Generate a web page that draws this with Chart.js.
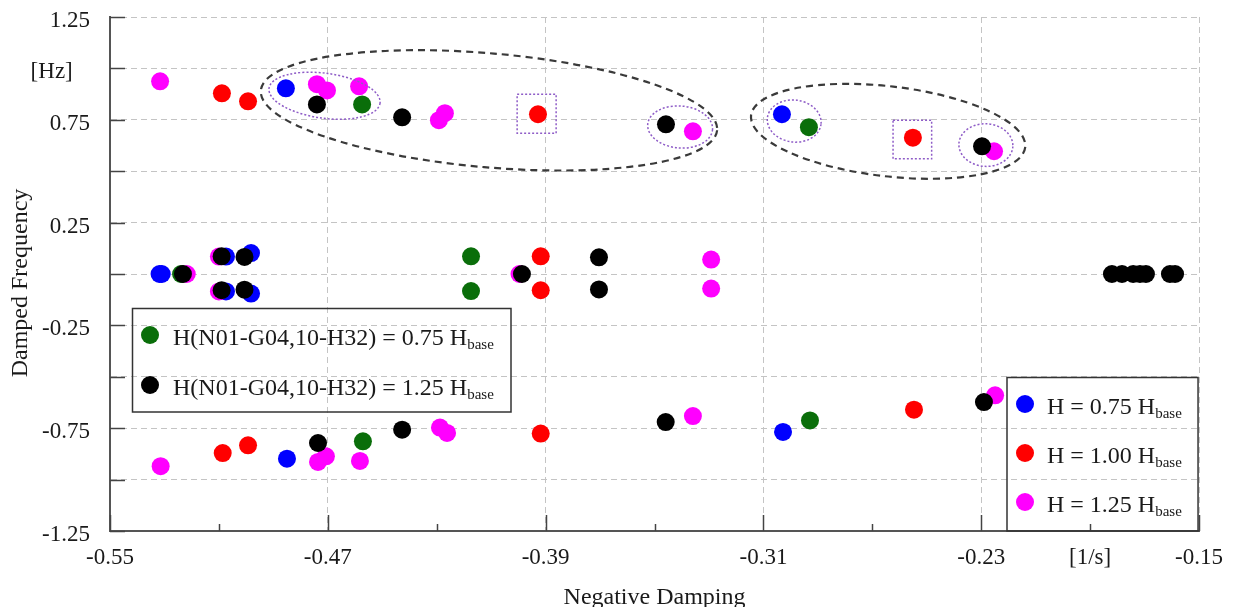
<!DOCTYPE html>
<html>
<head>
<meta charset="utf-8">
<title>Damped Frequency vs Negative Damping</title>
<script src="https://cdn.jsdelivr.net/npm/chart.js@4.4.1/dist/chart.umd.min.js"></script>
<style>
    html, body { margin: 0; padding: 0; background: #fff; }
    canvas { display: block; }
</style>
</head>
<body>
<canvas id="chart" width="1236" height="607"></canvas>
<script>
// axis tick labels (from min to max)
const xTickLabels = ['-0.55', '', '-0.47', '', '-0.39', '', '-0.31', '', '-0.23', '[1/s]', '-0.15'];
const yTickLabels = ['-1.25', '', '-0.75', '', '-0.25', '', '0.25', '', '0.75', '[Hz]   ', '1.25'];

// H = 0.75 Hbase
const blueDamping = [-0.4854, -0.3032, -0.4850, -0.3028, -0.5318, -0.5310, -0.5074, -0.5074, -0.4982, -0.4982];
const blueFreq = [0.903, 0.777, -0.898, -0.768, 0.000, 0.000, 0.085, -0.085, 0.102, -0.095];

// H = 1.00 Hbase
const redDamping = [-0.5089, -0.4993, -0.3928, -0.2551, -0.5086, -0.4993, -0.3918, -0.2547, -0.3918, -0.3918];
const redFreq = [0.879, 0.840, 0.777, 0.663, -0.871, -0.833, -0.776, -0.660, 0.086, -0.079];

// H = 1.25 Hbase
const magentaDamping = [-0.5316, -0.4740, -0.4703, -0.4585, -0.4292, -0.4270, -0.3359, -0.2253,
                        -0.5314, -0.4736, -0.4707, -0.4582, -0.4288, -0.4262, -0.3359, -0.2249,
                        -0.5218, -0.5100, -0.5100, -0.3996, -0.3292, -0.3292];
const magentaFreq = [0.937, 0.923, 0.893, 0.913, 0.748, 0.782, 0.694, 0.597,
                     -0.935, -0.914, -0.887, -0.909, -0.747, -0.773, -0.691, -0.590,
                     0.000, 0.085, -0.085, 0.000, 0.070, -0.071];

// H(N01-G04,10-H32) = 0.75 Hbase
const greenDamping = [-0.4574, -0.2933, -0.4571, -0.2929, -0.5239, -0.4174, -0.4174];
const greenFreq = [0.825, 0.714, -0.814, -0.712, 0.000, 0.086, -0.083];

// H(N01-G04,10-H32) = 1.25 Hbase
const blackDamping = [-0.4740, -0.4427, -0.3458, -0.2297, -0.4736, -0.4427, -0.3459, -0.2290,
                      -0.5232, -0.5090, -0.5090, -0.5006, -0.5006, -0.3987, -0.3704, -0.3704,
                      -0.1820, -0.1783, -0.1742, -0.1717, -0.1695, -0.1607, -0.1588];
const blackFreq = [0.825, 0.762, 0.728, 0.621, -0.822, -0.757, -0.720, -0.623,
                   0.000, 0.086, -0.079, 0.083, -0.076, 0.000, 0.081, -0.075,
                   0.000, 0.000, 0.000, 0.000, 0.000, 0.000, 0.000];

// highlighted groups (centre in data units, size in px)
const dashedEllipses = [
    { x: -0.4108, y: 0.796, rx: 229, ry: 57, rot: 0.087 },
    { x: -0.2642, y: 0.694, rx: 138, ry: 45, rot: 0.116 }
];
const dottedEllipses = [
    { x: -0.4712, y: 0.867, rx: 56, ry: 22.5, rot: 0.134 },
    { x: -0.3406, y: 0.715, rx: 32.5, ry: 21, rot: 0.08 },
    { x: -0.2987, y: 0.744, rx: 27, ry: 21, rot: 0.12 },
    { x: -0.2283, y: 0.627, rx: 27, ry: 21.3, rot: 0.05 }
];
const dottedSquares = [
    { x: -0.3933, y: 0.780, half: 19.5 },
    { x: -0.2553, y: 0.654, half: 19.3 }
];

const FONT = '"Liberation Serif", "Times New Roman", serif';
const TEXT = '#1a1a1a';

function points(xs, ys) {
    return xs.map((x, i) => ({ x: x, y: ys[i] }));
}

function series(label, color, xs, ys, order) {
    return {
        label: label,
        data: points(xs, ys),
        backgroundColor: color,
        borderColor: color,
        borderWidth: 0,
        pointRadius: 9,
        pointHoverRadius: 9,
        showLine: false,
        order: order
    };
}

const datasets = [
    series('H = 0.75 H', '#0000ff', blueDamping, blueFreq, 4),
    series('H = 1.00 H', '#ff0000', redDamping, redFreq, 3),
    series('H = 1.25 H', '#ff00ff', magentaDamping, magentaFreq, 2),
    series('H(N01-G04,10-H32) = 0.75 H', '#0a6e0a', greenDamping, greenFreq, 1),
    series('H(N01-G04,10-H32) = 1.25 H', '#000000', blackDamping, blackFreq, 0)
];

function legendText(ctx, x, y, main, sub) {
    ctx.font = '24px ' + FONT;
    ctx.fillText(main, x, y);
    const w = ctx.measureText(main).width;
    ctx.font = '15px ' + FONT;
    ctx.fillText(sub, x + w, y + 4);
}

function legendBox(ctx, x1, y1, x2, y2, entries, dotX, textX, rows) {
    ctx.save();
    ctx.strokeStyle = '#333';
    ctx.lineWidth = 1.5;
    ctx.strokeRect(x1, y1, x2 - x1, y2 - y1);
    ctx.textBaseline = 'alphabetic';
    ctx.textAlign = 'left';
    entries.forEach((ds, i) => {
        ctx.fillStyle = ds.backgroundColor;
        ctx.beginPath();
        ctx.arc(dotX, rows[i], 9, 0, Math.PI * 2);
        ctx.fill();
        ctx.fillStyle = TEXT;
        legendText(ctx, textX, rows[i] + 10, ds.label, 'base');
    });
    ctx.restore();
}

const decorations = {
    id: 'decorations',
    beforeDatasetsDraw(chart) {
        const { ctx, chartArea, scales } = chart;
        ctx.save();
        ctx.strokeStyle = '#444';
        ctx.lineWidth = 1.5;
        scales.x.ticks.forEach((t, i) => {
            const px = Math.round(scales.x.getPixelForValue(t.value)) + 0.5;
            const len = i % 2 === 0 ? 16 : 7;
            ctx.beginPath();
            ctx.moveTo(px, chartArea.bottom);
            ctx.lineTo(px, chartArea.bottom - len);
            ctx.stroke();
        });
        scales.y.ticks.forEach(t => {
            const py = Math.round(scales.y.getPixelForValue(t.value)) + 0.5;
            ctx.beginPath();
            ctx.moveTo(chartArea.left, py);
            ctx.lineTo(chartArea.left + 15, py);
            ctx.stroke();
        });
        ctx.restore();
    },
    afterDatasetsDraw(chart) {
        const { ctx, scales } = chart;
        ctx.save();
        ctx.strokeStyle = '#3a3a3a';
        ctx.lineWidth = 2.2;
        ctx.setLineDash([7, 5]);
        dashedEllipses.forEach(e => {
            ctx.beginPath();
            ctx.ellipse(scales.x.getPixelForValue(e.x), scales.y.getPixelForValue(e.y), e.rx, e.ry, e.rot, 0, Math.PI * 2);
            ctx.stroke();
        });
        ctx.strokeStyle = '#8e5cc7';
        ctx.lineWidth = 1.5;
        ctx.setLineDash([2, 2]);
        dottedEllipses.forEach(e => {
            ctx.beginPath();
            ctx.ellipse(scales.x.getPixelForValue(e.x), scales.y.getPixelForValue(e.y), e.rx, e.ry, e.rot, 0, Math.PI * 2);
            ctx.stroke();
        });
        dottedSquares.forEach(s => {
            const cx = scales.x.getPixelForValue(s.x);
            const cy = scales.y.getPixelForValue(s.y);
            ctx.strokeRect(cx - s.half, cy - s.half, s.half * 2, s.half * 2);
        });
        ctx.restore();
    },
    afterDraw(chart) {
        const { ctx, chartArea } = chart;
        const ds = chart.data.datasets;
        legendBox(ctx, 132.5, 308.5, 511, 412, [ds[3], ds[4]], 150, 173, [335, 385]);
        legendBox(ctx, 1007, 377.5, chartArea.right - 1, chartArea.bottom, [ds[0], ds[1], ds[2]], 1025, 1047, [404, 453, 502]);

        // axis titles
        ctx.save();
        ctx.fillStyle = TEXT;
        ctx.font = '24px ' + FONT;
        ctx.textAlign = 'center';
        ctx.textBaseline = 'alphabetic';
        ctx.fillText('Negative Damping', (chartArea.left + chartArea.right) / 2, 604);
        ctx.translate(27, 283);
        ctx.rotate(-Math.PI / 2);
        ctx.fillText('Damped Frequency', 0, 0);
        ctx.restore();
    }
};

const ctx = document.getElementById('chart').getContext('2d');
new Chart(ctx, {
    type: 'scatter',
    data: { datasets: datasets },
    options: {
        responsive: false,
        animation: false,
        devicePixelRatio: 1,
        layout: { padding: { top: 17, right: 36, left: 0, bottom: 0 } },
        plugins: {
            legend: { display: false },
            tooltip: { enabled: false }
        },
        scales: {
            x: {
                type: 'linear',
                min: -0.55,
                max: -0.15,
                afterFit: s => { s.height = 76; },
                ticks: {
                    stepSize: 0.04,
                    autoSkip: false,
                    maxRotation: 0,
                    padding: 13,
                    color: TEXT,
                    font: { family: FONT, size: 23 },
                    callback: (v, i) => xTickLabels[i]
                },
                grid: {
                    drawTicks: false,
                    lineWidth: 1,
                    color: c => (c.index % 2 === 0 && c.index > 0) ? '#c4c4c4' : 'rgba(0,0,0,0)'
                },
                border: { display: true, color: '#555', width: 2, dash: [6, 4] }
            },
            y: {
                type: 'linear',
                min: -1.25,
                max: 1.25,
                afterFit: s => {
                    s.width = 110;
                    s.paddingTop = 0;
                    s.paddingBottom = 0;
                },
                ticks: {
                    stepSize: 0.25,
                    autoSkip: false,
                    padding: 20,
                    labelOffset: 4,
                    color: TEXT,
                    font: { family: FONT, size: 23 },
                    callback: (v, i) => yTickLabels[i]
                },
                grid: {
                    drawTicks: false,
                    lineWidth: 1,
                    color: c => c.index > 0 ? '#c4c4c4' : 'rgba(0,0,0,0)'
                },
                border: { display: true, color: '#555', width: 2, dash: [6, 4] }
            }
        }
    },
    plugins: [decorations]
});
</script>
</body>
</html>
